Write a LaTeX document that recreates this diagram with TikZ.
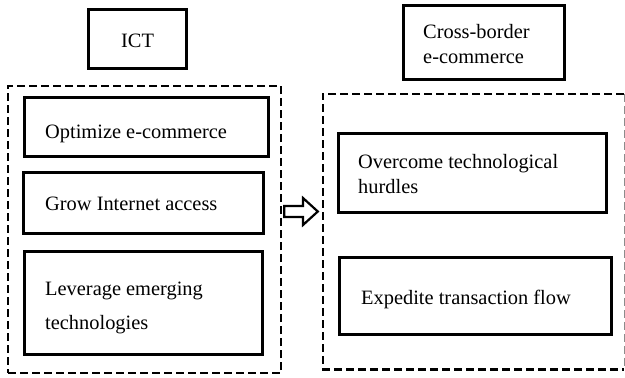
\documentclass[tikz,border=0pt]{standalone}
\usepackage{fontspec}
\setmainfont{Liberation Serif}
\begin{document}
\begin{tikzpicture}[x=1pt,y=-1pt,
  solidbox/.style={draw=black, line width=3pt, inner sep=0pt},
  dashbox/.style={line width=2.6pt, dash pattern=on 8pt off 4pt},
  lbl/.style={anchor=base west, inner sep=0pt, align=left, font=\fontsize{20.4}{24.5}\selectfont},
  wide/.style={font=\fontsize{20.4}{34}\selectfont},
  bigarrow/.style={draw=black, line width=2.2pt, fill=white, line join=miter}]
\useasboundingbox (0,0) rectangle (625,378);

% headers
\node[solidbox, minimum width=98pt, minimum height=59pt] (ict) at (137,38.5) {};
\node[lbl] (ictt) at (121,47) {ICT};
\node[solidbox, minimum width=161pt, minimum height=74pt] (cbe) at (483.5,42) {};
\node[lbl] (cbet) at (423,63.3) {Cross-border\\e-commerce};

% left group
\node[draw=black, dashbox, minimum width=273pt, minimum height=287pt, inner sep=0pt] (L) at (144.5,229.5) {};
\node[solidbox, minimum width=244pt, minimum height=59pt] (opt) at (146,126.5) {};
\node[lbl] (optt) at (45,138) {Optimize e-commerce};
\node[solidbox, minimum width=240pt, minimum height=61pt] (grow) at (143,202.5) {};
\node[lbl] (growt) at (45,210.5) {Grow Internet access};
\node[solidbox, minimum width=238pt, minimum height=103pt] (lev) at (143,302.5) {};
\node[lbl, wide] (levt) at (45,329.5) {Leverage emerging\\technologies};

% right group
\node[minimum width=301pt, minimum height=275pt, inner sep=0pt] (R) at (473.5,231.5) {};
\draw[dashbox] (R.north east) -- (R.north west) -- (R.south west) -- (R.south east);
\draw[dash pattern=on 8pt off 4pt, line width=1.2pt, black!45] (R.north east) -- (R.south east);
\node[solidbox, minimum width=268pt, minimum height=79pt] (ovc) at (472,172.5) {};
\node[lbl] (ovct) at (358,193.3) {Overcome technological\\hurdles};
\node[solidbox, minimum width=272pt, minimum height=77pt] (exp) at (475,295.5) {};
\node[lbl] (expt) at (361,304.5) {Expedite transaction flow};

% arrow between the groups
\draw[bigarrow] ([xshift=2pt]L.east |- 0,206) -- (303,206) -- (303,198) -- ([xshift=-5pt]R.west |- 0,211.5)
  -- (303,225) -- (303,217) -- ([xshift=2pt]L.east |- 0,217) -- cycle;
\end{tikzpicture}
\end{document}
